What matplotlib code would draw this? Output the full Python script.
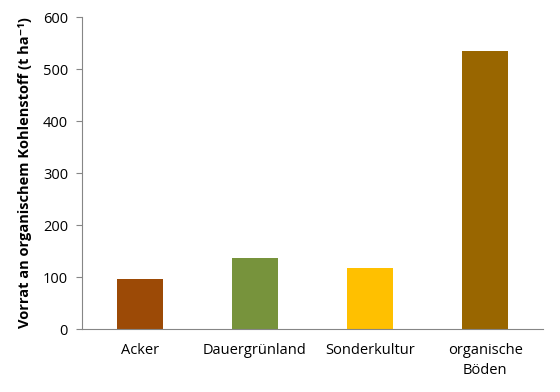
import matplotlib
matplotlib.use("Agg")
import matplotlib.pyplot as plt

categories = ["Acker", "Dauergrünland", "Sonderkultur", "organische\nBöden"]
values = [96, 136, 117, 535]
colors = ["#9C4A06", "#77933C", "#FFC000", "#996600"]

plt.rcParams['font.family'] = ['Open Sans', 'DejaVu Sans']

fig = plt.figure(figsize=(5.6, 3.92), dpi=100)
ax = fig.add_axes([0.1464, 0.1607, 0.8232, 0.7959])

x = range(len(categories))
ax.bar(x, values, width=0.4, color=colors)

ax.set_xlim(-0.5, len(categories) - 0.5)
ax.set_ylim(0, 600)
ax.set_yticks(range(0, 601, 100))
ax.set_xticks(list(x))
ax.set_xticklabels(categories, fontsize=10.5, linespacing=1.5)
ax.tick_params(axis='y', labelsize=10.5, length=4, color='#868686', pad=6)
ax.tick_params(axis='x', length=0, pad=10)

for s in ['top', 'right']:
    ax.spines[s].set_visible(False)
for s in ['left', 'bottom']:
    ax.spines[s].set_color('#868686')

ax.set_ylabel("Vorrat an organischem Kohlenstoff (t ha\u207b\u00b9)", fontsize=10.5,
              fontweight='bold', labelpad=8)

plt.savefig('out.png', dpi=100)
